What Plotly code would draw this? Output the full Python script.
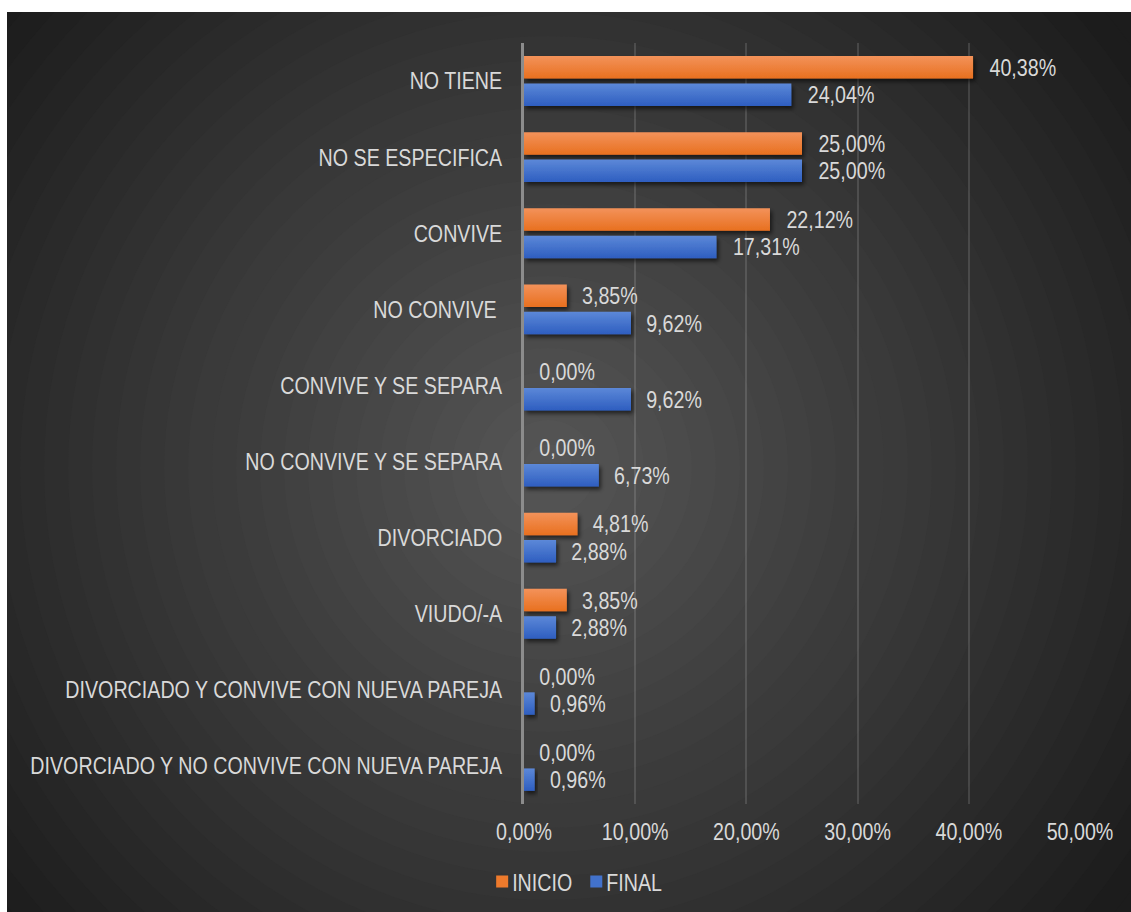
import plotly.graph_objects as go

# ---- data ----
categorias = [
    "NO TIENE",
    "NO SE ESPECIFICA",
    "CONVIVE",
    "NO CONVIVE ",
    "CONVIVE Y SE SEPARA",
    "NO CONVIVE Y SE SEPARA",
    "DIVORCIADO",
    "VIUDO/-A",
    "DIVORCIADO Y CONVIVE CON NUEVA PAREJA",
    "DIVORCIADO Y NO CONVIVE CON NUEVA PAREJA",
]
inicio = [40.38, 25.00, 22.12, 3.85, 0.00, 0.00, 4.81, 3.85, 0.00, 0.00]
final = [24.04, 25.00, 17.31, 9.62, 9.62, 6.73, 2.88, 2.88, 0.96, 0.96]
x_ticks = [0, 10, 20, 30, 40, 50]
x_ticktext = [("%.2f%%" % v).replace(".", ",") for v in x_ticks]

# ---- page geometry / style ----
W, H = 1131, 912
M_L, M_R, M_T, M_B = 524, 51, 43, 108
FONT = "Liberation Sans, Arial, sans-serif"
FS = 24
TXT = "#d9d9d9"
ORANGE = "#ee7a2c"
BLUE = "#4272cc"

fig = go.Figure()
fig.add_trace(go.Bar(
    name="INICIO", y=categorias, x=inicio, orientation="h",
    marker=dict(color=ORANGE, line=dict(width=0)),
    texttemplate="\u00a0%{x:.2f}%", textposition="outside",
    constraintext="none",
    textfont=dict(color=TXT, size=FS, family=FONT), cliponaxis=False,
))
fig.add_trace(go.Bar(
    name="FINAL", y=categorias, x=final, orientation="h",
    marker=dict(color=BLUE, line=dict(width=0)),
    texttemplate="\u00a0%{x:.2f}%", textposition="outside",
    constraintext="none",
    textfont=dict(color=TXT, size=FS, family=FONT), cliponaxis=False,
))

# radial background built from concentric discs (outermost first)
plot_w = W - M_L - M_R
plot_h = H - M_T - M_B
cx_px, cy_px = 548, 468
ax = (cx_px - M_L) / plot_w
ay = (H - M_B - cy_px) / plot_h
inner, outer = (0x57, 0x57, 0x57), (0x1c, 0x1c, 0x1c)
r_max = 720
n_rings = 30
shapes = [dict(type="rect", xref="paper", yref="paper",
               x0=-2, x1=2, y0=-2, y1=2, layer="below",
               fillcolor="#1c1c1c", line=dict(width=0))]
for i in range(n_rings, 0, -1):
    r = r_max * i / n_rings
    t = min(r / r_max, 1.0)
    c = tuple(round(a + (b - a) * t) for a, b in zip(inner, outer))
    shapes.append(dict(
        type="circle", layer="below",
        xref="paper", yref="paper",
        xsizemode="pixel", ysizemode="pixel",
        xanchor=ax, yanchor=ay,
        x0=-r, x1=r, y0=-r, y1=r,
        fillcolor="rgb(%d,%d,%d)" % c, line=dict(width=0),
    ))
# white frame strips at the top and left edges
shapes.append(dict(type="rect", xref="paper", yref="paper", layer="below",
                   xsizemode="pixel", ysizemode="pixel",
                   xanchor=0, yanchor=1,
                   x0=-M_L - 5, x1=plot_w + M_R + 5, y0=M_T - 12, y1=M_T + 5,
                   fillcolor="white", line=dict(width=0)))
shapes.append(dict(type="rect", xref="paper", yref="paper", layer="below",
                   xsizemode="pixel", ysizemode="pixel",
                   xanchor=0, yanchor=0,
                   x0=-M_L - 5, x1=-M_L + 7, y0=-M_B - 5, y1=plot_h + M_T + 5,
                   fillcolor="white", line=dict(width=0)))

fig.update_layout(
    width=W, height=H,
    margin=dict(l=M_L, r=M_R, t=M_T, b=M_B, pad=0, autoexpand=False),
    paper_bgcolor="white", plot_bgcolor="rgba(0,0,0,0)",
    separators=",.",
    barmode="group", bargap=0.28, bargroupgap=0.18,
    font=dict(family=FONT, color=TXT, size=FS),
    shapes=shapes,
    showlegend=True,
    legend=dict(
        orientation="h", xref="container", yref="container",
        x=0.512, y=0.033, xanchor="center", yanchor="middle",
        font=dict(size=FS, color=TXT, family=FONT),
        bgcolor="rgba(0,0,0,0)", itemwidth=30, traceorder="normal",
    ),
    xaxis=dict(
        range=[0, 50], tickvals=x_ticks, ticktext=x_ticktext,
        showgrid=True, gridcolor="rgba(255,255,255,0.13)", gridwidth=2,
        zeroline=False, showline=False, automargin=False,
        ticks="outside", ticklen=6, tickcolor="rgba(0,0,0,0)",
        tickfont=dict(size=FS, color=TXT, family=FONT),
        fixedrange=True,
    ),
    yaxis=dict(
        categoryorder="array", categoryarray=categorias, autorange="reversed",
        showgrid=False, zeroline=False, automargin=False,
        showline=True, linecolor="#8c8c8c", linewidth=3,
        ticks="outside", ticklen=14, tickcolor="rgba(0,0,0,0)",
        tickfont=dict(size=FS, color=TXT, family=FONT),
        fixedrange=True,
    ),
)

# Finishing touches in the browser:
#  * vertical light-to-dark gradient and a soft drop shadow on the bars
#  * legend swatches pulled close to their labels
#  * lettering narrowed horizontally (condensed face look) around each anchor
post_js = """
var gd = document.getElementById('{plot_id}');
var svg = gd.querySelector('svg.main-svg');
var NS = 'http://www.w3.org/2000/svg';
var defs = svg.querySelector('defs') || svg.insertBefore(document.createElementNS(NS, 'defs'), svg.firstChild);

function addGrad(id, top, bottom) {
    var g = document.createElementNS(NS, 'linearGradient');
    g.setAttribute('id', id);
    g.setAttribute('x1', '0'); g.setAttribute('y1', '0');
    g.setAttribute('x2', '0'); g.setAttribute('y2', '1');
    [[0, top], [1, bottom]].forEach(function (s) {
        var st = document.createElementNS(NS, 'stop');
        st.setAttribute('offset', s[0]);
        st.setAttribute('stop-color', s[1]);
        g.appendChild(st);
    });
    defs.appendChild(g);
}
addGrad('barGradInicio', '#f3925a', '#e8701f');
addGrad('barGradFinal', '#5c88d8', '#2e5ec0');

var f = document.createElementNS(NS, 'filter');
f.setAttribute('id', 'barShadow');
f.setAttribute('x', '-20%'); f.setAttribute('y', '-40%');
f.setAttribute('width', '150%'); f.setAttribute('height', '200%');
var ds = document.createElementNS(NS, 'feDropShadow');
ds.setAttribute('dx', '2'); ds.setAttribute('dy', '3');
ds.setAttribute('stdDeviation', '2');
ds.setAttribute('flood-color', '#000');
ds.setAttribute('flood-opacity', '0.6');
f.appendChild(ds);
defs.appendChild(f);

var grads = ['barGradInicio', 'barGradFinal'];
gd.querySelectorAll('.barlayer .trace').forEach(function (tr, i) {
    tr.querySelectorAll('.point path').forEach(function (p) {
        p.style.fill = 'url(#' + grads[i % 2] + ')';
        p.setAttribute('filter', 'url(#barShadow)');
    });
});

var SX = 0.82;
var items = gd.querySelectorAll('.legend .traces');
items.forEach(function (g) {
    g.querySelector('text.legendtext').setAttribute('x', '30');
});

gd.querySelectorAll('svg text').forEach(function (t) {
    var x = parseFloat(t.getAttribute('x')) || 0;
    var tr = t.getAttribute('transform') || '';
    t.setAttribute('transform', tr + ' translate(' + x + ',0) scale(' + SX + ',1) translate(' + (-x) + ',0)');
});

function tx(g) {
    var m = /translate\\(\\s*([-\\d.e]+)[ ,]+([-\\d.e]+)/.exec(g.getAttribute('transform') || '');
    return m ? [parseFloat(m[1]), parseFloat(m[2])] : [0, 0];
}
if (items.length) {
    var pos = tx(items[0]);
    var x = pos[0];
    var right = 0;
    items.forEach(function (g, i) {
        var p = tx(g);
        g.setAttribute('transform', 'translate(' + x + ',' + p[1] + ')');
        var w = g.querySelector('text.legendtext').getBBox().width * SX;
        right = x + 30 + w;
        x = right + 18 - 14;
    });
    // re-centre the legend block on its anchor
    var leg = gd.querySelector('.legend');
    var lp = tx(leg);
    var left0 = pos[0] + 14;
    var centre = lp[0] + (left0 + right) / 2;
    var target = """ + str(round(0.512 * W, 1)) + """;
    leg.setAttribute('transform', 'translate(' + (lp[0] + target - centre) + ',' + lp[1] + ')');
}
"""

fig.write_html("out.html", post_script=post_js)
